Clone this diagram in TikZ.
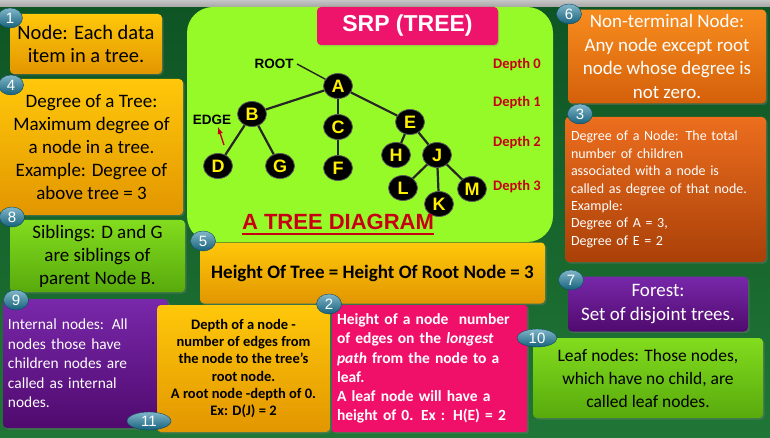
\documentclass[tikz,border=0pt]{standalone}
\usepackage{fontspec}
\setmainfont{Carlito}
\newfontfamily\arialfont{Liberation Sans}
\usetikzlibrary{shapes.geometric,shadows}

\definecolor{bgdark}{RGB}{14,84,36}
\definecolor{bglight}{RGB}{32,118,54}
\definecolor{panelgreen}{RGB}{150,250,40}
\definecolor{titlepink}{RGB}{238,20,108}
\definecolor{goldtop}{RGB}{255,200,10}
\definecolor{goldbot}{RGB}{226,150,0}
\definecolor{orangetop}{RGB}{248,140,30}
\definecolor{orangebot}{RGB}{212,96,10}
\definecolor{rusttop}{RGB}{236,110,30}
\definecolor{rustbot}{RGB}{170,64,8}
\definecolor{purpletop}{RGB}{120,40,170}
\definecolor{purplebot}{RGB}{80,10,110}
\definecolor{limetop}{RGB}{130,220,30}
\definecolor{limebot}{RGB}{88,170,12}
\definecolor{hotpink}{RGB}{240,16,106}
\definecolor{depthred}{RGB}{200,0,20}
\definecolor{badgeblue}{RGB}{26,122,156}
\definecolor{nodeyellow}{RGB}{255,240,0}

\tikzset{
  card/.style={rounded corners=4pt, inner sep=5pt, align=center,
    drop shadow={shadow xshift=1.5pt, shadow yshift=-1.5pt, opacity=.35}},
  goldcard/.style={card, top color=goldtop, bottom color=goldbot},
  orangecard/.style={card, top color=orangetop, bottom color=orangebot},
  rustcard/.style={card, top color=rusttop, bottom color=rustbot},
  purplecard/.style={card, top color=purpletop, bottom color=purplebot},
  limecard/.style={card, top color=limetop, bottom color=limebot},
  badge/.style={ellipse, inner sep=0pt, minimum width=25pt, minimum height=20pt,
    top color=badgeblue!55!white, bottom color=badgeblue!80!black,
    draw=badgeblue!60!black, line width=.4pt, text=white,
    font=\arialfont\fontsize{15}{15}\selectfont},
  widebadge/.style={badge, minimum width=44pt, minimum height=18pt},
  treenode/.style={ellipse, inner sep=0pt, minimum width=29pt, minimum height=25pt,
    fill=black, draw=gray!70!black, line width=.8pt, text=nodeyellow,
    font=\arialfont\bfseries\fontsize{18}{18}\selectfont},
  edge/.style={line width=2.2pt, draw=black!85},
  depthlabel/.style={text=depthred, font=\bfseries\fontsize{14.5}{14.5}\selectfont},
  taglabel/.style={font=\arialfont\bfseries\fontsize{13.5}{13.5}\selectfont}
}

\begin{document}
\begin{tikzpicture}[x=1pt,y=-1pt]
  % backdrop
  \useasboundingbox (0,0) rectangle (770,438);
  \shade[top color=bgdark, bottom color=bglight] (0,0) rectangle (770,438);
  \shade[top color=gray!45, bottom color=gray!70] (0,0) rectangle (770,7);

  % central panel with the tree
  \node[rounded corners=26pt, fill=panelgreen, minimum width=366pt, minimum height=235pt,
        inner sep=0pt] (panel) at (370,124.5) {};
  \node[rounded corners=4pt, fill=titlepink, minimum width=181pt, minimum height=38pt,
        text=white, font=\arialfont\bfseries\fontsize{23}{23}\selectfont,
        drop shadow={shadow xshift=1pt, shadow yshift=-1.5pt, opacity=.3}]
        (title) at (407.5,26) {SRP (TREE)};

  \node[treenode] (A) at (338,86) {A};
  \node[treenode] (B) at (252,114) {B};
  \node[treenode] (C) at (338,127) {C};
  \node[treenode] (E) at (410,122) {E};
  \node[treenode] (D) at (218,166) {D};
  \node[treenode] (G) at (280,166) {G};
  \node[treenode] (F) at (338,168) {F};
  \node[treenode] (H) at (396,155) {H};
  \node[treenode] (J) at (437,155) {J};
  \node[treenode] (L) at (403,188) {L};
  \node[treenode] (K) at (439,204) {K};
  \node[treenode] (M) at (472,189) {M};

  \draw[edge] (A) -- (B);
  \draw[edge] (A) -- (C);
  \draw[edge] (A) -- (E);
  \draw[edge] (B) -- (D);
  \draw[edge] (B) -- (G);
  \draw[edge] (C) -- (F);
  \draw[edge] (E) -- (H);
  \draw[edge] (E) -- (J);
  \draw[edge] (J) -- (L);
  \draw[edge] (J) -- (K);
  \draw[edge] (J) -- (M);

  \node[taglabel] (root) at (274,64) {ROOT};
  \draw[line width=1.4pt, black!85] (root.east) -- (A);
  \node[taglabel] (edgetag) at (212,120) {EDGE};
  \coordinate (edgefoot) at (224,145);
  \draw[-latex, line width=1.4pt, depthred] (edgefoot) -- (218,127);

  \node[depthlabel] (d0) at (517,65) {Depth 0};
  \node[depthlabel] (d1) at (517,103) {Depth 1};
  \node[depthlabel] (d2) at (517,143) {Depth 2};
  \node[depthlabel] (d3) at (517,187) {Depth 3};

  \node[text=depthred, font=\arialfont\bfseries\fontsize{22}{22}\selectfont]
        (caption) at (338,222) {A TREE DIAGRAM};
  \draw[depthred, line width=2pt]
        ([xshift=3pt,yshift=-4.5pt]caption.base west) -- ([xshift=-3pt,yshift=-4.5pt]caption.base east);

  % left column
  \node[goldcard, minimum width=152pt, minimum height=60pt,
        font=\fontsize{20.5}{23}\selectfont] (n1) at (86,44)
        {Node: Each data\\item in a tree.};
  \node[goldcard, minimum width=183pt, minimum height=136pt,
        font=\fontsize{19}{23}\selectfont] (n4) at (91.5,147)
        {Degree of a Tree:\\Maximum degree of\\a node in a tree.\\Example: Degree of\\above tree = 3};
  \node[limecard, minimum width=175pt, minimum height=72pt,
        font=\fontsize{19}{23}\selectfont] (n8) at (97.5,256)
        {Siblings: D and G\\are siblings of\\parent Node B.};
  \node[purplecard, minimum width=165pt, minimum height=129pt, text width=155pt,
        align=left, text=white, font=\fontsize{15.4}{19.4}\selectfont] (n9) at (85.5,363.5)
        {Internal nodes: All\\nodes those have\\children nodes are\\called as internal\\nodes.};

  % bottom middle
  \node[goldcard, minimum width=345pt, minimum height=61pt,
        font=\bfseries\fontsize{19}{20}\selectfont] (n5) at (372.5,273)
        {Height Of Tree = Height Of Root Node = 3};
  \node[goldcard, minimum width=173pt, minimum height=127pt,
        font=\bfseries\fontsize{14.5}{17.2}\selectfont] (n11) at (243.5,368.5)
        {Depth of a node -\\number of edges from\\the node to the tree's\\root node.\\A root node -depth of 0.\\Ex: D(J) = 2};
  \node[card, rounded corners=2pt, fill=hotpink, minimum width=195pt, minimum height=127pt,
        text width=185pt, align=left, text=white,
        font=\bfseries\fontsize{15.5}{19.2}\selectfont] (n2) at (429.5,368.5)
        {Height of a node\ \ number\\of edges on the \textit{longest}\\\textit{path} from the node to a\\leaf.\\A leaf node will have a\\height of 0. Ex : H(E) = 2};

  % right column
  \node[orangecard, minimum width=198pt, minimum height=91pt, text=white,
        font=\fontsize{19}{23.5}\selectfont] (n6) at (667,56.5)
        {Non-terminal Node:\\Any node except root\\node whose degree is\\not zero.};
  \node[rustcard, minimum width=201pt, minimum height=145pt, text width=189pt,
        align=left, text=white, font=\fontsize{14}{17.4}\selectfont] (n3) at (665.5,189.5)
        {Degree of a Node: The total\\number of children\\associated with a node is\\called as degree of that node.\\Example:\\Degree of A = 3,\\Degree of E = 2};
  \node[purplecard, minimum width=180pt, minimum height=55pt, text=white,
        font=\fontsize{19}{24}\selectfont] (n7) at (658,304)
        {Forest:\\Set of disjoint trees.};
  \node[limecard, minimum width=230pt, minimum height=80pt,
        font=\fontsize{17.5}{23}\selectfont] (n10) at (648,378)
        {Leaf nodes: Those nodes,\\which have no child, are\\called leaf nodes.};

  % number badges
  \node[badge] (b1) at (10,18) {1};
  \node[badge] (b4) at (11,85) {4};
  \node[badge] (b8) at (12,217) {8};
  \node[badge] (b9) at (16,300) {9};
  \node[widebadge] (b11) at (149,421) {11};
  \node[badge] (b5) at (203,241) {5};
  \node[badge] (b2) at (329,304) {2};
  \node[badge] (b6) at (569,14) {6};
  \node[badge] (b3) at (580,114) {3};
  \node[badge] (b7) at (571,280) {7};
  \node[widebadge, minimum width=40pt] (b10) at (537,338) {10};
\end{tikzpicture}
\end{document}
